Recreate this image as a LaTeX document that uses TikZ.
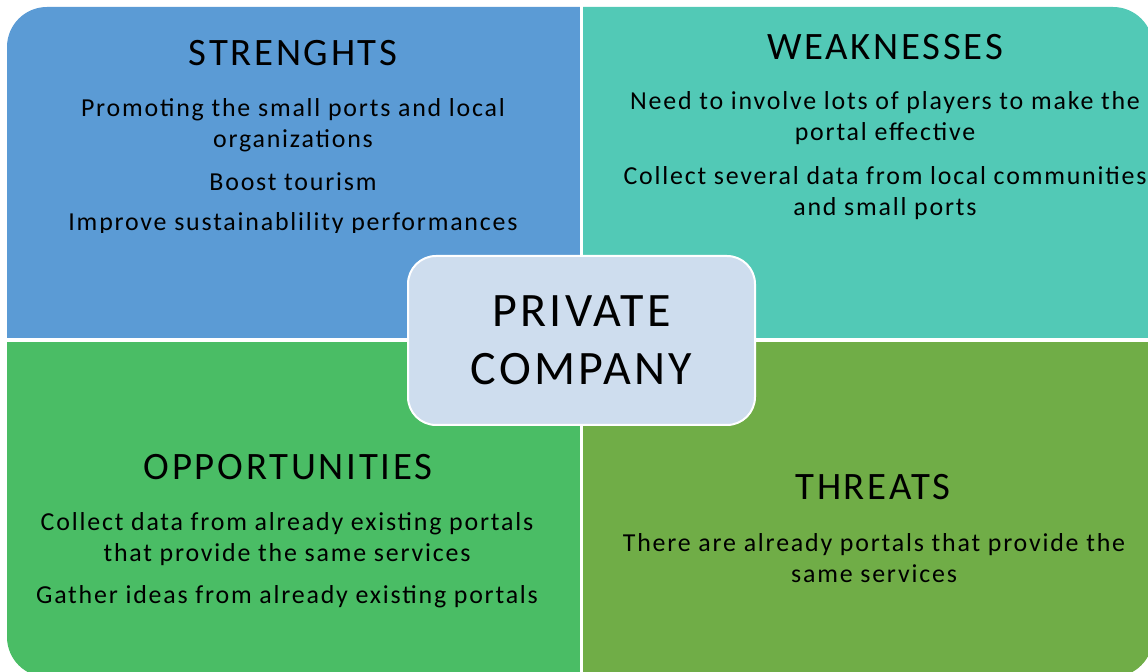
\documentclass[tikz,border=0pt]{standalone}
\usepackage{fontspec}
\setmainfont[LetterSpace=7]{Carlito}
\usetikzlibrary{positioning}
\definecolor{strBlue}{HTML}{5B9BD5}
\definecolor{weakTeal}{HTML}{52C9B6}
\definecolor{oppGreen}{HTML}{4ABD65}
\definecolor{thrGreen}{HTML}{70AD47}
\definecolor{coreFill}{HTML}{CEDDEE}
\tikzset{title/.style={inner sep=0pt, font=\fontsize{19.4}{23}\selectfont}}
\tikzset{item/.style={inner sep=0pt, align=center, font=\fontsize{12.95}{15.5}\selectfont}}
\tikzset{core/.style={draw=white, line width=1pt, fill=coreFill, rounded corners=14pt,
     minimum width=173.5pt, minimum height=84.5pt, align=center,
     font=\fontsize{24}{29}\selectfont}}

\begin{document}
\begin{tikzpicture}[x=0.5pt, y=-0.5pt]

    \useasboundingbox (0,0) rectangle (1148,672);

    % quadrants
    \begin{scope}
        \clip[rounded corners=20pt] (7,7) rectangle (1153,677);
        \fill[strBlue]  (0,0) rectangle (581.5,340);
        \fill[weakTeal] (581.5,0) rectangle (1160,340);
        \fill[oppGreen] (0,340) rectangle (581.5,680);
        \fill[thrGreen] (581.5,340) rectangle (1160,680);
    \end{scope}
    \draw[white, line width=1.6pt] (581.5,0) -- (581.5,680);
    \draw[white, line width=1.6pt] (0,340) -- (1160,340);

    \node[title] (strTitle) at (293,53) {STRENGHTS};
    \node[item] (str1) at (293,125) {Promoting the small ports and local\\organizations};
    \node[item] (str2) at (293,182) {Boost tourism};
    \begin{scope}
        \clip (7,7) rectangle (580,233);
        \node[item] (str3) at (293,224) {Improve sustainablility performances};
    \end{scope}

    \node[title] (weakTitle) at (885,47) {WEAKNESSES};
    \node[item] (weak1) at (885,118.5) {Need to involve lots of players to make the\\portal effective};
    \node[item] (weak2) at (885,193) {Collect several data from local communities\\and small ports};

    \node[title] (oppTitle) at (288,467) {OPPORTUNITIES};
    \node[item] (opp1) at (287,539.5) {Collect data from already existing portals\\that provide the same services};
    \node[item] (opp2) at (287,597) {Gather ideas from already existing portals};

    \node[title] (thrTitle) at (873,487) {THREATS};
    \node[item] (thr1) at (874,558.5) {There are already portals that provide the\\same services};

    \node[core] (company) at (581.5,340.5) {PRIVATE\\COMPANY};

\end{tikzpicture}
\end{document}
